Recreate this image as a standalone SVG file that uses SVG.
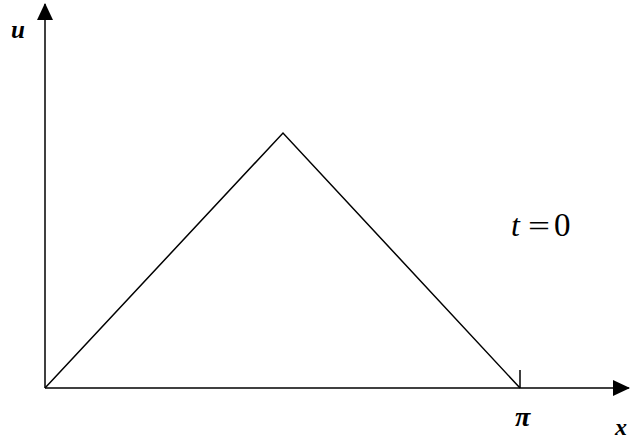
<svg xmlns="http://www.w3.org/2000/svg" width="631" height="439" viewBox="0 0 631 439">
<defs>
<marker id="ah" markerWidth="17" markerHeight="16" refX="16" refY="8" orient="auto" markerUnits="userSpaceOnUse">
<path d="M0,0 L17,8 L0,16 Z" fill="#000"/>
</marker>
</defs>
<rect width="631" height="439" fill="#fff"/>
<g id="connectors" stroke="#000" stroke-width="1.5" fill="none">
<line x1="45" y1="388" x2="45" y2="4" marker-end="url(#ah)"/>
<line x1="45" y1="388" x2="629" y2="388" marker-end="url(#ah)"/>
<line x1="520" y1="370" x2="520" y2="388"/>
<polyline points="45,388 283,133 520,388"/>
</g>
<g id="labels" fill="#000" font-family="'Liberation Serif','Times New Roman',serif">
<text x="11" y="38" font-size="25" font-style="italic" font-weight="bold">u</text>
<text x="515" y="426" font-size="28" font-style="italic" font-weight="bold">π</text>
<text x="615" y="435" font-size="24" font-style="italic" font-weight="bold">x</text>
<text x="511" y="236" font-size="32" font-style="italic">t</text>
<text x="528" y="236" font-size="30" textLength="22" lengthAdjust="spacingAndGlyphs">=</text>
<text x="554" y="236" font-size="33">0</text>
</g>
</svg>
